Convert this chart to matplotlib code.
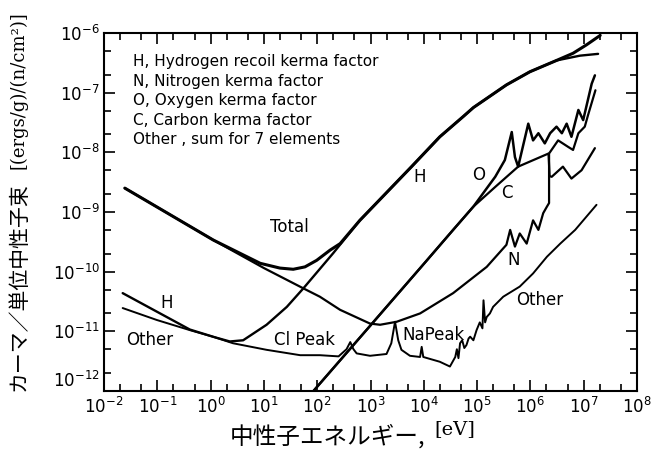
import numpy as np
import matplotlib
matplotlib.use("Agg")
from matplotlib import pyplot as plt
from matplotlib.ticker import LogLocator, NullFormatter

# curves, stored as log10(E / eV) and log10(kerma)
total_logE = [-1.61, 0.05, 0.93, 1.30, 1.55, 1.77, 1.99, 2.24, 2.43, 2.80, 3.77, 4.30, 4.74, 4.93,
              5.55, 5.99, 6.49, 6.80, 7.05, 7.18, 7.31]
total_logK = [-8.60, -9.47, -9.86, -9.94, -9.96, -9.92, -9.81, -9.64, -9.53, -9.14, -8.24, -7.74, -7.40, -7.25,
              -6.87, -6.65, -6.46, -6.34, -6.20, -6.12, -6.04]

h_logE = [-1.65, -1.01, -0.39, 0.08, 0.36, 0.61, 1.05, 1.43, 1.74, 2.30, 2.80, 3.77, 4.30, 4.74, 4.93,
          5.55, 5.99, 6.49, 6.93, 7.27]
h_logK = [-10.36, -10.67, -10.97, -11.10, -11.17, -11.15, -10.89, -10.59, -10.28, -9.69, -9.14, -8.24, -7.74, -7.40, -7.25,
          -6.87, -6.65, -6.46, -6.38, -6.35]

n_logE = [-1.61, 0.05, 1.00, 1.74, 2.05, 2.43, 2.99, 3.18, 3.49, 3.93, 4.55, 5.18, 5.55, 5.62, 5.71, 5.80, 5.93,
          6.05, 6.15, 6.24, 6.31, 6.35, 6.35, 6.52, 6.71, 6.80, 6.90, 7.02, 7.08, 7.22]
n_logK = [-8.60, -9.47, -9.94, -10.28, -10.42, -10.64, -10.87, -10.89, -10.84, -10.70, -10.36, -9.92, -9.55, -9.30, -9.58, -9.36, -9.53,
          -9.14, -9.30, -9.02, -8.91, -8.85, -8.02, -7.80, -7.91, -7.96, -7.68, -7.57, -7.38, -6.96]

o_logE = [1.90, 3.00, 4.00, 4.55, 4.93, 5.20, 5.34, 5.52, 5.65, 5.71, 5.77, 5.96, 6.05, 6.15, 6.27, 6.37,
          6.49, 6.59, 6.68, 6.77, 6.90, 6.99, 7.15, 7.21]
o_logK = [-12.03, -10.90, -9.87, -9.30, -8.91, -8.58, -8.41, -8.13, -7.66, -8.08, -8.24, -7.52, -7.80, -7.68, -7.85, -7.68,
          -7.57, -7.68, -7.52, -7.74, -7.29, -7.46, -6.85, -6.71]

c_logE = [1.90, 3.00, 4.00, 4.55, 4.93, 5.34, 5.77, 6.34, 6.36, 6.40, 6.61, 6.77, 6.96, 7.21]
c_logK = [-12.03, -10.90, -9.87, -9.30, -8.91, -8.58, -8.24, -8.02, -8.40, -8.41, -8.24, -8.44, -8.30, -7.93]

other_logE = [-1.65, -1.01, -0.39, 0.08, 0.42, 1.05, 1.68, 2.05, 2.40, 2.55, 2.62, 2.68, 2.74, 2.99, 3.30, 3.39,
              3.46, 3.52, 3.58, 3.74, 3.93, 3.96, 3.99, 4.30, 4.49, 4.59, 4.62, 4.65, 4.68, 4.72, 4.76, 4.80,
              4.84, 4.87, 4.93, 4.99, 5.05, 5.10, 5.12, 5.15, 5.18, 5.24, 5.30, 5.49, 5.80, 6.05, 6.31, 6.56,
              6.84, 7.24]
other_logK = [-10.61, -10.81, -10.98, -11.10, -11.20, -11.31, -11.40, -11.40, -11.42, -11.30, -11.18, -11.30, -11.37, -11.41, -11.38, -11.20,
              -10.84, -11.15, -11.31, -11.41, -11.43, -11.26, -11.43, -11.51, -11.59, -11.43, -11.30, -11.45, -11.20, -11.15, -11.28, -11.23,
              -11.12, -11.09, -11.15, -10.98, -10.85, -10.95, -10.48, -10.85, -10.76, -10.70, -10.59, -10.42, -10.25, -10.03, -9.75, -9.53,
              -9.30, -8.88]

label_texts = ["Total", "H", "Other", "Cl Peak", "H", "O", "C", "N", "Other", "NaPeak"]
label_logE = [1.47, -0.82, -1.14, 1.77, 3.93, 5.02, 5.55, 5.68, 6.18, 4.18]
label_logK = [-9.25, -10.53, -11.15, -11.15, -8.42, -8.38, -8.69, -9.81, -10.48, -11.06]

key_lines = ["H, Hydrogen recoil kerma factor",
             "N, Nitrogen kerma factor",
             "O, Oxygen kerma factor",
             "C, Carbon kerma factor",
             "Other , sum for 7 elements"]


def curve(ax, logE, logK, lw):
    ax.plot(10.0 ** np.array(logE), 10.0 ** np.array(logK), color="black", lw=lw,
            solid_joinstyle="round", solid_capstyle="round")


fig = plt.figure(figsize=(6.51, 4.62), dpi=100)
ax = fig.add_axes([0.1598, 0.1537, 0.8187, 0.7749])
ax.set_xscale("log")
ax.set_yscale("log")

curve(ax, total_logE, total_logK, 2.2)
curve(ax, h_logE, h_logK, 1.7)
curve(ax, n_logE, n_logK, 1.6)
curve(ax, o_logE, o_logK, 1.8)
curve(ax, c_logE, c_logK, 1.6)
curve(ax, other_logE, other_logK, 1.4)

ax.set_xlim(1e-2, 1e8)
ax.set_ylim(1e-12, 1e-6)

for axis in (ax.xaxis, ax.yaxis):
    axis.set_major_locator(LogLocator(base=10, numticks=20))
    axis.set_minor_locator(LogLocator(base=10, subs=(2.0, 5.0), numticks=20))
    axis.set_minor_formatter(NullFormatter())

ax.tick_params(which="both", direction="in", top=True, right=True, width=1.2, labelsize=12)
ax.tick_params(which="major", length=8)
ax.tick_params(which="minor", length=5)
ax.tick_params(axis="x", pad=4)
ax.tick_params(axis="y", pad=3)
for s in ax.spines.values():
    s.set_linewidth(1.5)

# lift the bottom y label so it clears the 10^-2 label, as in the original
ylocs = list(ax.yaxis.get_majorticklocs())
yticks = ax.yaxis.get_major_ticks()
for loc, tick in zip(ylocs, yticks):
    if abs(np.log10(loc) + 12) < 1e-6:
        tick.label1.set_verticalalignment("bottom")

for t, x, y in zip(label_texts, label_logE, label_logK):
    ax.text(10.0 ** x, 10.0 ** y, t, fontsize=12, ha="center", va="center")

ax.text(0.054, 0.94, "\n".join(key_lines), transform=ax.transAxes, fontsize=11,
        ha="left", va="top", linespacing=1.37)

cjk = ["Noto Sans CJK JP", "DejaVu Sans"]
fig.text(0.028, 0.379, "カーマ／単位中性子束", rotation=90, fontsize=15, family=cjk,
         ha="center", va="center")
fig.text(0.028, 0.805, "[(ergs/g)/(n/cm²)]", rotation=90, fontsize=13, family="DejaVu Serif",
         ha="center", va="center")
fig.text(0.353, 0.056, "中性子エネルギー,", fontsize=17, family=cjk, ha="left", va="center")
fig.text(0.668, 0.072, "[eV]", fontsize=14, family="DejaVu Serif", ha="left", va="center")

plt.savefig("out.png", dpi=100)
